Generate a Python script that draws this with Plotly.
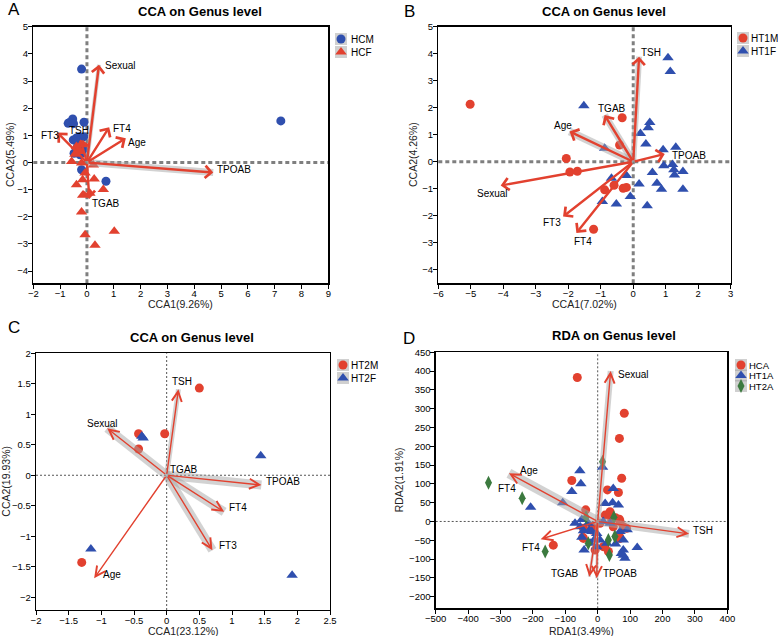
import plotly.graph_objects as go

RED = "#E2412F"
BLUE = "#2F4FAE"
GREEN = "#3C7A3F"
GRID = "#7f7f7f"
W, H = 778, 636

# ---------------- Panel A ----------------
a_hcm_x = [-0.2, 7.23, -0.53, -0.7, -0.11, -0.29, -0.51, -0.39, -0.22, -0.48, -0.14, -0.2, 0.71, -0.26, -0.65, -0.5, -0.12, -0.35]
a_hcm_y = [3.44, 1.53, 1.6, 1.44, 1.48, 0.95, 0.83, 0.9, 0.65, 0.34, 0.47, -0.27, -0.69, 0.28, 1.47, 1.43, 0.95, 0.6]
a_hcf_x = [-0.39, -0.26, -0.57, -0.2, 0.24, -0.07, 0.27, -0.39, -0.16, 0.61, -0.16, -0.2, -0.07, 1.02, 0.3, 0.11, -0.32, -0.14, -0.45]
a_hcf_y = [0.59, 0.4, 0.04, -0.02, -0.09, -0.39, -0.61, -0.82, -0.64, -1.0, -1.21, -1.82, -2.66, -2.53, -3.05, -1.13, 0.47, 0.65, 0.3]
a_vars = ["Sexual", "FT4", "Age", "FT3", "TPOAB", "TGAB", "TSH"]
a_arrow_x = [0.45, 0.83, 1.45, -1.1, 4.71, 0.09, -0.25]
a_arrow_y = [3.6, 1.3, 0.89, 1.1, -0.37, -1.35, 0.85]
a_label_x = [1.25, 1.3, 1.85, -1.38, 5.5, 0.7, -0.3]
a_label_y = [3.57, 1.26, 0.72, 1.0, -0.27, -1.52, 1.18]
a_groups = ["HCM", "HCF"]

# ---------------- Panel B ----------------
b_m_x = [-5.02, -0.34, -0.42, -2.06, -1.95, -1.72, -0.59, -0.88, -0.31, -0.21, -1.22]
b_m_y = [2.13, 1.63, 0.62, 0.12, -0.38, -0.35, -0.87, -1.04, -0.98, -0.95, -2.5]
b_f_x = [1.07, 1.14, -1.52, 0.51, 0.46, 0.22, 0.39, -0.88, 0.92, 1.31, 0.94, 1.21, 1.25, 1.53, 1.27, 0.59, -0.67, -0.21, 0.18, 0.73, 0.87, 1.53, -0.95, -0.52, -0.09, 0.43]
b_f_y = [3.85, 3.34, 2.07, 1.45, 1.26, 1.05, 0.66, 0.5, 0.44, 0.54, -0.15, -0.1, -0.3, -0.36, -0.49, -0.4, -0.61, -0.51, -0.82, -0.8, -1.02, -1.02, -1.47, -1.56, -1.29, -1.63]
b_vars = ["TSH", "TGAB", "Age", "TPOAB", "Sexual", "FT3", "FT4"]
b_arrow_x = [0.18, -0.88, -1.96, 0.97, -4.08, -2.16, -1.75]
b_arrow_y = [3.89, 1.73, 1.12, 0.29, -0.88, -2.03, -2.64]
b_label_x = [0.56, -0.64, -2.16, 1.72, -4.34, -2.49, -1.55]
b_label_y = [4.05, 1.98, 1.33, 0.23, -1.19, -2.25, -2.95]
b_groups = ["HT1M", "HT1F"]

# ---------------- Panel C ----------------
c_m_x = [0.5, -0.43, -0.03, -0.43, -1.3]
c_m_y = [1.43, 0.68, 0.68, 0.43, -1.43]
c_f_x = [-0.38, -0.36, 1.44, -1.16, 1.92]
c_f_y = [0.64, 0.61, 0.32, -1.21, -1.64]
c_vars = ["TSH", "Sexual", "TGAB", "TPOAB", "FT4", "FT3", "Age"]
c_arrow_x = [0.18, -0.91, 0.06, 1.45, 0.88, 0.7, -1.11]
c_arrow_y = [1.41, 0.77, -0.03, -0.16, -0.6, -1.23, -1.69]
c_label_x = [0.23, -0.98, 0.27, 1.78, 1.09, 0.94, -0.83]
c_label_y = [1.54, 0.85, 0.1, -0.11, -0.53, -1.15, -1.62]
c_groups = ["HT2M", "HT2F"]

# ---------------- Panel D ----------------
d_hca_x = [-63, 82, 67, 74, -80, 64, 30, -37, -137, -44, 67, 89, 69, 23, 38, 7, -18, -44, 48, 17, 79, -8, 33, 36, 43, -46, 22, 67, -18, 69, 55]
d_hca_y = [383, 288, 221, 115, 109, 77, 84, 31, -63, -45, 6, -18, -45, 17, 26, -5, -14, -18, -14, -67, -14, -76, -80, 20, 4, -42, -67, -40, -23, 0, 10]
d_ht1a_x = [-55, -52, -80, -108, -207, 15, 48, 46, 64, 23, 122, -42, 79, 84, 79, -70, -49, -44, -26, 17, 38, 69, -3, -11, 7, 28, -3, -49, -23, -29, -54, -18, 79, 91, 55, 73]
d_ht1a_y = [135, 100, 80, 50, 38, 144, 88, 50, 44, 48, -69, -76, -76, -98, -90, -5, 5, -25, -24, 0, -5, -27, -32, -49, -49, -58, -67, -42, -58, -5, -14, -27, -49, -22, -60, -85]
d_ht2a_x = [-337, -233, -162, 15, -36, 50, 53, -29, 36, 33]
d_ht2a_y = [103, 62, -80, 159, 11, 11, -40, -58, -89, -49]
d_vars = ["Sexual", "Age", "TSH", "FT4", "TGAB", "TPOAB"]
d_arrow_x = [40, -274, 282, -176, -26, -3]
d_arrow_y = [400, 128, -33, -47, -147, -151]
d_label_x = [112, -211, 326, -279, -207, -101, 69]
d_label_y = [392, 135, -23, 88, -69, -138, -138]
d_label_t = ["Sexual", "Age", "TSH", "FT4", "FT4", "TGAB", "TPOAB"]
d_groups = ["HCA", "HT1A", "HT2A"]

# ---------------- styles (not data) ----------------
a_shadow = [4, 0, 0, 0, 7, 0, 0]
b_shadow = [6, 7, 8, 0, 0, 0, 0]
c_shadow = [5, 9, 4, 9, 9, 9, 0]
d_shadow = [6, 10, 8, 0, 3, 3]

fig = go.Figure()
annotations = []
shapes = []
FONT = "Arial"


def px2paper(px, py):
    return px / W, 1 - py / H


panels = [
    dict(ax="x", ay="y", box=(33.3, 328.3, 26.7, 283.3), xr=[-2, 9], yr=[-4.45, 5], xd=1, yd=1,
         xt="CCA1(9.26%)", yt="CCA2(5.49%)", title="CCA on Genus level", letter="A",
         tpos=(200, 11), lpos=(14, 9), xtpos=304, ytpos=10, thick=True),
    dict(ax="x2", ay="y2", box=(438.3, 730.7, 26.7, 283.3), xr=[-6, 3], yr=[-4.5, 5], xd=1, yd=1,
         xt="CCA1(7.02%)", yt="CCA2(4.26%)", title="CCA on Genus level", letter="B",
         tpos=(604, 11), lpos=(409, 12), xtpos=304, ytpos=413, thick=True),
    dict(ax="x3", ay="y3", box=(36, 330, 353.3, 610), xr=[-2, 2.5], yr=[-2.21, 2], xd=0.5, yd=0.5,
         xt="CCA1(23.12%)", yt="CCA2(19.93%)", title="CCA on Genus level", letter="C",
         tpos=(192, 337), lpos=(14, 327), xtpos=631, ytpos=6, thick=False),
    dict(ax="x4", ay="y4", box=(435.7, 727.3, 352.3, 608.3), xr=[-500, 400], yr=[-231, 450], xd=100, yd=50,
         xt="RDA1(3.49%)", yt="RDA2(1.91%)", title="RDA on Genus level", letter="D",
         tpos=(614, 335), lpos=(409, 338), xtpos=631, ytpos=399, thick=False),
]

layout_axes = {}
for i, p in enumerate(panels):
    n = "" if i == 0 else str(i + 1)
    x0, x1, y0, y1 = p["box"]
    layout_axes["xaxis" + n] = dict(
        domain=[x0 / W, x1 / W], range=p["xr"], dtick=p["xd"], anchor=p["ay"], automargin=False,
        showline=True, linecolor="black", linewidth=1.3, mirror=True,
        ticks="outside", ticklen=4, tickcolor="black", showgrid=False, zeroline=False,
        ticklabelstandoff=-3,
        tickfont=dict(family=FONT, size=9.5, color="black"),
    )
    layout_axes["yaxis" + n] = dict(
        domain=[1 - y1 / H, 1 - y0 / H], range=p["yr"], dtick=p["yd"], anchor=p["ax"], automargin=False,
        showline=True, linecolor="black", linewidth=1.3, mirror=True,
        ticks="outside", ticklen=4, tickcolor="black", showgrid=False, zeroline=False,
        ticklabelstandoff=-2,
        tickfont=dict(family=FONT, size=9.5, color="black"),
    )
    if p["thick"]:
        dash = dict(color=GRID, width=3, dash="4px,3px")
    else:
        dash = dict(color="#555", width=1, dash="2px,2px")
    shapes.append(dict(type="line", xref=p["ax"], yref=p["ay"] + " domain", x0=0, x1=0, y0=0, y1=1, line=dash, layer="below"))
    shapes.append(dict(type="line", xref=p["ax"] + " domain", yref=p["ay"], x0=0, x1=1, y0=0, y1=0, line=dash, layer="below"))
    tx, ty = px2paper(*p["tpos"])
    annotations.append(dict(text="<b>" + p["title"] + "</b>", xref="paper", yref="paper", x=tx, y=ty,
                            showarrow=False, font=dict(family=FONT, size=13, color="black"),
                            xanchor="center", yanchor="middle"))
    lx, ly = px2paper(*p["lpos"])
    annotations.append(dict(text=p["letter"], xref="paper", yref="paper", x=lx, y=ly, showarrow=False,
                            font=dict(family=FONT, size=17, color="black"), xanchor="center", yanchor="middle"))
    # axis titles
    annotations.append(dict(text=p["xt"], xref="paper", yref="paper", x=(x0 + x1) / 2 / W, y=1 - p["xtpos"] / H,
                            showarrow=False, font=dict(family=FONT, size=10.5, color="#222"),
                            xanchor="center", yanchor="middle"))
    annotations.append(dict(text=p["yt"], xref="paper", yref="paper", x=p["ytpos"] / W, y=1 - (y0 + y1) / 2 / H,
                            showarrow=False, textangle=-90, font=dict(family=FONT, size=10.5, color="#222"),
                            xanchor="center", yanchor="middle"))


def add_arrows(xa, ya, tx, ty, width, head, size, shadows):
    for x, y, sw in zip(tx, ty, shadows):
        if sw > 0:
            fig.add_trace(go.Scatter(x=[0, x], y=[0, y], xaxis=xa, yaxis=ya, mode="lines",
                                     line=dict(color="rgba(165,165,165,0.5)", width=sw),
                                     showlegend=False, hoverinfo="skip"))
    for x, y in zip(tx, ty):
        annotations.append(dict(x=x, y=y, ax=0, ay=0, xref=xa, yref=ya, axref=xa, ayref=ya,
                                text="", showarrow=True, arrowhead=head, arrowsize=size,
                                arrowwidth=width, arrowcolor=RED, standoff=0))


def add_labels(xa, ya, lx, ly, texts):
    for x, y, t in zip(lx, ly, texts):
        annotations.append(dict(x=x, y=y, xref=xa, yref=ya, text=t, showarrow=False,
                                font=dict(family=FONT, size=10, color="black")))


mk = dict(line=dict(width=0))

# Panel A
fig.add_trace(go.Scatter(x=a_hcm_x, y=a_hcm_y, xaxis="x", yaxis="y", mode="markers", name=a_groups[0],
                         marker=dict(color=BLUE, size=9, symbol="circle", **mk), showlegend=False))
fig.add_trace(go.Scatter(x=a_hcf_x, y=a_hcf_y, xaxis="x", yaxis="y", mode="markers", name=a_groups[1],
                         marker=dict(color=RED, size=10, symbol="triangle-up", **mk), showlegend=False))
add_arrows("x", "y", a_arrow_x, a_arrow_y, 2.4, 4, 1.0, a_shadow)
add_labels("x", "y", a_label_x, a_label_y, a_vars)

# Panel B
fig.add_trace(go.Scatter(x=b_m_x, y=b_m_y, xaxis="x2", yaxis="y2", mode="markers", name=b_groups[0],
                         marker=dict(color=RED, size=9, symbol="circle", **mk), showlegend=False))
fig.add_trace(go.Scatter(x=b_f_x, y=b_f_y, xaxis="x2", yaxis="y2", mode="markers", name=b_groups[1],
                         marker=dict(color=BLUE, size=10, symbol="triangle-up", **mk), showlegend=False))
add_arrows("x2", "y2", b_arrow_x, b_arrow_y, 2.4, 4, 1.0, b_shadow)
add_labels("x2", "y2", b_label_x, b_label_y, b_vars)

# Panel C
fig.add_trace(go.Scatter(x=c_m_x, y=c_m_y, xaxis="x3", yaxis="y3", mode="markers", name=c_groups[0],
                         marker=dict(color=RED, size=9, symbol="circle", **mk), showlegend=False))
fig.add_trace(go.Scatter(x=c_f_x, y=c_f_y, xaxis="x3", yaxis="y3", mode="markers", name=c_groups[1],
                         marker=dict(color=BLUE, size=10, symbol="triangle-up", **mk), showlegend=False))
add_arrows("x3", "y3", c_arrow_x, c_arrow_y, 1.4, 5, 1.4, c_shadow)
add_labels("x3", "y3", c_label_x, c_label_y, c_vars)

# Panel D
fig.add_trace(go.Scatter(x=d_hca_x, y=d_hca_y, xaxis="x4", yaxis="y4", mode="markers", name=d_groups[0],
                         marker=dict(color=RED, size=9, symbol="circle", **mk), showlegend=False))
fig.add_trace(go.Scatter(x=d_ht1a_x, y=d_ht1a_y, xaxis="x4", yaxis="y4", mode="markers", name=d_groups[1],
                         marker=dict(color=BLUE, size=10, symbol="triangle-up", **mk), showlegend=False))
fig.add_trace(go.Scatter(x=d_ht2a_x, y=d_ht2a_y, xaxis="x4", yaxis="y4", mode="markers", name=d_groups[2],
                         marker=dict(color=GREEN, size=10, symbol="diamond-tall", **mk), showlegend=False))
add_arrows("x4", "y4", d_arrow_x, d_arrow_y, 1.4, 5, 1.4, d_shadow)
add_labels("x4", "y4", d_label_x, d_label_y, d_label_t)

# ---------------- compact legends on a pixel overlay axis ----------------
legends = [
    (a_groups, [BLUE, RED], ["circle", "triangle-up"], 341, 39, 13, 349, 10),
    (b_groups, [RED, BLUE], ["circle", "triangle-up"], 743, 38, 13, 749, 10),
    (c_groups, [RED, BLUE], ["circle", "triangle-up"], 343, 365, 13, 349, 10),
    (d_groups, [RED, BLUE, GREEN], ["circle", "triangle-up", "diamond-tall"], 741, 365, 10.5, 747, 9.5),
]
for names, cols, syms, mx, my, gap, txx, fs in legends:
    ys = [my + k * gap for k in range(len(names))]
    xs = [mx] * len(names)
    fig.add_trace(go.Scatter(x=xs, y=ys, xaxis="x5", yaxis="y5", mode="markers", showlegend=False,
                             hoverinfo="skip",
                             marker=dict(symbol="square", size=12, color="rgba(150,150,150,0.45)", line=dict(width=0))))
    for k, nm in enumerate(names):
        fig.add_trace(go.Scatter(x=[mx], y=[ys[k]], xaxis="x5", yaxis="y5", mode="markers", showlegend=False,
                                 hoverinfo="skip",
                                 marker=dict(symbol=syms[k], size=9 if syms[k] == "circle" else 10, color=cols[k],
                                             line=dict(width=0))))
        annotations.append(dict(text=nm, xref="x5", yref="y5", x=txx, y=ys[k], showarrow=False,
                                xanchor="left", yanchor="middle", font=dict(family=FONT, size=fs, color="black")))

layout_axes["xaxis5"] = dict(domain=[0, 1], range=[0, W], visible=False, anchor="y5", automargin=False, fixedrange=True)
layout_axes["yaxis5"] = dict(domain=[0, 1], range=[H, 0], visible=False, anchor="x5", automargin=False, fixedrange=True)

fig.update_layout(
    width=W, height=H, margin=dict(l=0, r=0, t=0, b=0, pad=0, autoexpand=False),
    paper_bgcolor="white", plot_bgcolor="rgba(0,0,0,0)",
    showlegend=False, hovermode=False,
    annotations=annotations, shapes=shapes,
    **layout_axes,
)
fig.write_html("out.html", config={"displayModeBar": False, "staticPlot": True},
               post_script="document.body.style.margin='0px';document.body.style.overflow='hidden';")
